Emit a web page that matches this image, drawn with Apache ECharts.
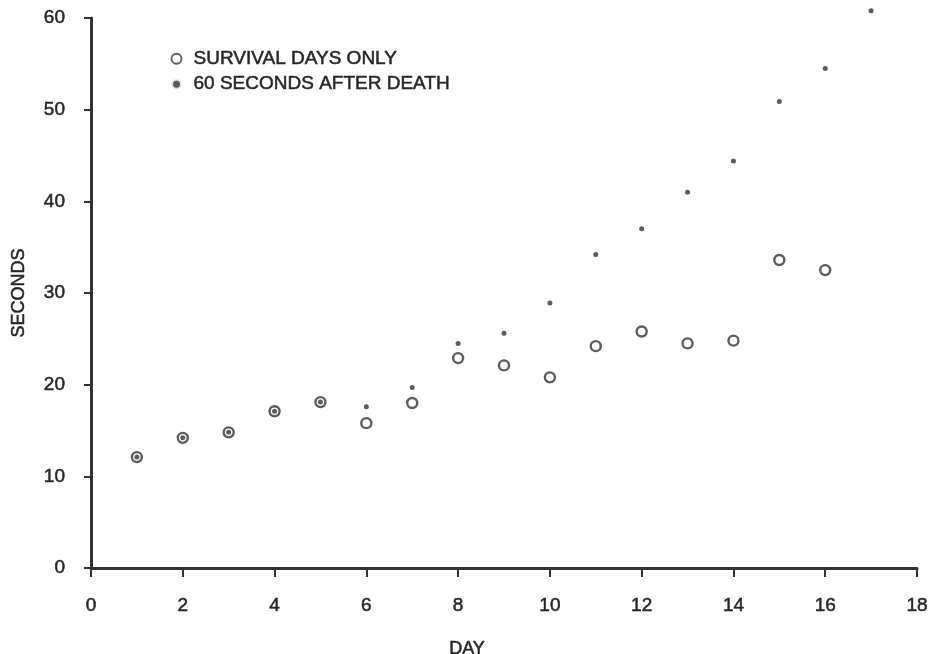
<!DOCTYPE html>
<html>
<head>
<meta charset="utf-8">
<script src="https://cdn.jsdelivr.net/npm/echarts@6/dist/echarts.min.js"></script>
<style>
  html, body { margin: 0; padding: 0; background: #fff; }
  #main { width: 934px; height: 654px; }
</style>
</head>
<body>
<div id="main"></div>
<script>
var survivalDays = [1, 2, 3, 4, 5, 6, 7, 8, 9, 10, 11, 12, 13, 14, 15, 16];
var survivalSeconds = [12.1, 14.2, 14.8, 17.1, 18.1, 15.8, 18.0, 22.9, 22.1, 20.8, 24.2, 25.8, 24.5, 24.8, 33.6, 32.5];

var afterDeathDays = [1, 2, 3, 4, 5, 6, 7, 8, 9, 10, 11, 12, 13, 14, 15, 16, 17];
var afterDeathSeconds = [12.1, 14.2, 14.8, 17.1, 18.1, 17.6, 19.7, 24.5, 25.6, 28.9, 34.2, 37.0, 41.0, 44.4, 50.9, 54.5, 60.8];

var seriesNames = ['SURVIVAL DAYS ONLY', '60 SECONDS AFTER DEATH'];

function pairs(xs, ys) {
    var out = [];
    for (var i = 0; i < xs.length; i++) {
        out.push([xs[i], ys[i]]);
    }
    return out;
}

var ink = '#333';
var textInk = '#262626';
var font = 'Liberation Sans, Arial, sans-serif';
// scanned type is a bit heavier than regular, so thicken it with a thin outline
var labelStyle = {
    fontFamily: font, fontSize: 19, fontWeight: 'normal', color: textInk,
    textBorderColor: textInk, textBorderWidth: 0.5
};

var chart = echarts.init(document.getElementById('main'));

chart.setOption({
    backgroundColor: '#fff',
    animation: false,
    grid: { left: 91, right: 17, top: 18, bottom: 86, outerBoundsMode: 'none' },
    legend: {
        orient: 'vertical',
        left: 165,
        top: 44,
        itemGap: 6,
        itemWidth: 12,
        itemHeight: 10,
        textStyle: Object.assign({ padding: [0, 0, 0, 6] }, labelStyle),
        data: [
            { name: seriesNames[0], icon: 'circle', itemStyle: { color: '#fff', borderColor: ink, borderWidth: 1.8 } },
            { name: seriesNames[1], icon: 'circle', itemStyle: { color: ink, borderColor: '#fff', borderWidth: 3 } }
        ]
    },
    xAxis: {
        type: 'value',
        min: 0,
        max: 18,
        interval: 2,
        name: 'DAY',
        nameLocation: 'middle',
        nameGap: 72,
        nameTextStyle: Object.assign({}, labelStyle, { fontSize: 18, padding: [0, 74, 0, 0] }),
        splitLine: { show: false },
        axisLine: { onZero: false, lineStyle: { color: ink, width: 3 } },
        axisTick: { length: 9, lineStyle: { color: ink, width: 2 } },
        axisLabel: Object.assign({ margin: 28 }, labelStyle)
    },
    yAxis: {
        type: 'value',
        min: 0,
        max: 60,
        interval: 10,
        name: 'SECONDS',
        nameLocation: 'middle',
        nameGap: 63,
        nameRotate: 90,
        nameTextStyle: Object.assign({}, labelStyle, { fontSize: 18 }),
        splitLine: { show: false },
        axisLine: { lineStyle: { color: ink, width: 3 } },
        axisTick: { length: 7, lineStyle: { color: ink, width: 2 } },
        axisLabel: Object.assign({ margin: 26 }, labelStyle)
    },
    series: [
        {
            name: seriesNames[0],
            type: 'scatter',
            symbol: 'circle',
            symbolSize: 10,
            clip: false,
            z: 2,
            itemStyle: { color: '#fff', borderColor: ink, borderWidth: 2.4 },
            data: pairs(survivalDays, survivalSeconds)
        },
        {
            name: seriesNames[1],
            type: 'scatter',
            symbol: 'circle',
            symbolSize: 5,
            clip: false,
            z: 3,
            itemStyle: { color: ink },
            data: pairs(afterDeathDays, afterDeathSeconds)
        }
    ]
});
</script>
</body>
</html>
